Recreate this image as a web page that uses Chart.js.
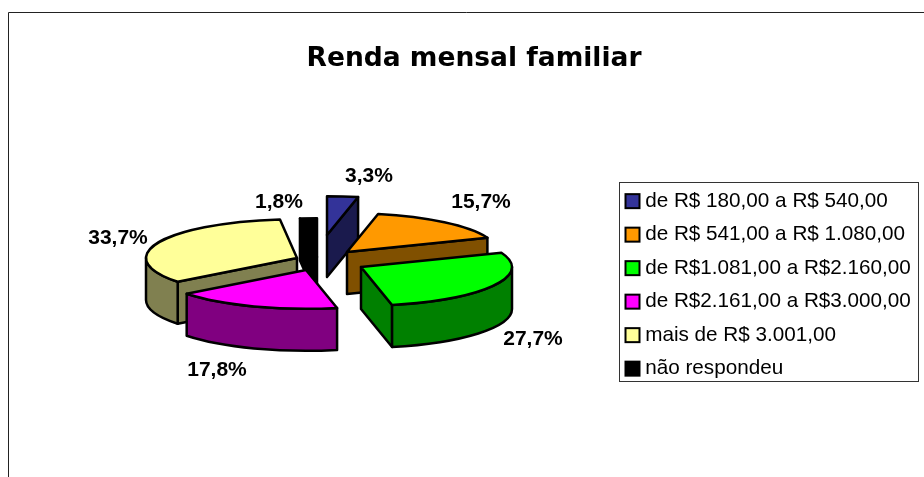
<!DOCTYPE html>
<html>
<head>
<meta charset="utf-8">
<style>
    html, body { margin: 0; padding: 0; background: #fff; }
    canvas { display: block; }
</style>
<script src="https://cdn.jsdelivr.net/npm/chart.js@4"></script>
</head>
<body>
<canvas id="grafico" width="924" height="477"></canvas>
<script>
// Dados
const categories = [
    'de R$ 180,00 a R$ 540,00',
    'de R$ 541,00 a R$ 1.080,00',
    'de R$1.081,00 a R$2.160,00',
    'de R$2.161,00 a R$3.000,00',
    'mais de R$ 3.001,00',
    'não respondeu'
];
const values = [3.3, 15.7, 27.7, 17.8, 33.7, 1.8];
const colors = ['#333399', '#FF9900', '#00FF00', '#FF00FF', '#FFFF99', '#000000'];
const sideColors = ['#1A1A4D', '#805000', '#008000', '#800080', '#808050', '#000000'];

// Layout da pizza 3D (pixels)
const center = { x: 325, y: 263 };
const flatten = 0.257;
const depth = 42;
const explodeX = [2, 22, 36, -19, -28, -8];
const explodeY = [-28, -11, 4, 7, -5, -6];
const labelX = [369, 481, 533, 217, 118, 279];
const labelY = [176, 202, 339, 370, 238, 202];

// Legenda
const legendBox = { left: 619, top: 182, width: 300, height: 200 };
const legendPadding = 12.8;

function formatPercent(v) {
    return v.toFixed(1).replace('.', ',') + '%';
}

// Desenha uma fatia: paredes laterais e depois o topo achatado
function drawSlice(ctx, arc, i) {
    const cx = center.x + explodeX[i];
    const cy = center.y + explodeY[i];
    const rx = arc.outerRadius;
    const ry = rx * flatten;
    const t0 = arc.startAngle;
    const t1 = arc.endAngle;

    ctx.lineWidth = 2.5;
    ctx.lineJoin = 'round';
    ctx.strokeStyle = '#000';
    ctx.fillStyle = sideColors[i];

    // paredes radiais voltadas para o observador
    [[t0, Math.cos(t0) < 0], [t1, Math.cos(t1) > 0]].forEach(([t, visible]) => {
        if (!visible) return;
        const ex = cx + rx * Math.cos(t);
        const ey = cy + ry * Math.sin(t);
        ctx.beginPath();
        ctx.moveTo(cx, cy);
        ctx.lineTo(ex, ey);
        ctx.lineTo(ex, ey + depth);
        ctx.lineTo(cx, cy + depth);
        ctx.closePath();
        ctx.fill();
        ctx.stroke();
    });

    // parede externa, só a metade da frente
    const a0 = Math.max(t0, 0);
    const a1 = Math.min(t1, Math.PI);
    if (a0 < a1) {
        ctx.beginPath();
        ctx.ellipse(cx, cy, rx, ry, 0, a0, a1);
        ctx.ellipse(cx, cy + depth, rx, ry, 0, a1, a0, true);
        ctx.closePath();
        ctx.fill();
        ctx.stroke();
    }

    // topo: o próprio arco do Chart.js, achatado
    ctx.save();
    ctx.translate(cx, cy);
    ctx.scale(1, flatten);
    ctx.translate(-arc.x, -arc.y);
    arc.draw(ctx);
    ctx.restore();

    ctx.beginPath();
    ctx.moveTo(cx, cy);
    ctx.ellipse(cx, cy, rx, ry, 0, t0, t1);
    ctx.closePath();
    ctx.stroke();
}

const pizza3d = {
    id: 'pizza3d',
    afterLayout(chart) {
        // título e legenda no mesmo lugar do original
        chart.titleBlock.left = 24;
        chart.titleBlock.right = 924;
        const legend = chart.legend;
        legend.left = 612;
        legend.right = 924;
        legend.top = legendBox.top - 4;
        legend.bottom = 477;
    },
    beforeDraw(chart) {
        const ctx = chart.ctx;
        ctx.save();
        ctx.strokeStyle = '#222';
        ctx.lineWidth = 1;
        ctx.beginPath();
        ctx.moveTo(8.5, 477);
        ctx.lineTo(8.5, 12.5);
        ctx.lineTo(924, 12.5);
        ctx.stroke();
        ctx.strokeStyle = '#333';
        ctx.strokeRect(legendBox.left + 0.5, legendBox.top + 0.5, legendBox.width - 1, legendBox.height - 1);
        ctx.restore();
    },
    beforeDatasetsDraw(chart) {
        const ctx = chart.ctx;
        const arcs = chart.getDatasetMeta(0).data;

        // de trás para a frente
        const order = arcs.map((arc, i) => i).sort((a, b) => {
            const midA = (arcs[a].startAngle + arcs[a].endAngle) / 2;
            const midB = (arcs[b].startAngle + arcs[b].endAngle) / 2;
            return Math.sin(midA) - Math.sin(midB);
        });
        ctx.save();
        order.forEach((i) => drawSlice(ctx, arcs[i], i));

        ctx.fillStyle = '#000';
        ctx.font = 'bold 21px "Liberation Sans"';
        ctx.textAlign = 'center';
        ctx.textBaseline = 'middle';
        values.forEach((v, i) => ctx.fillText(formatPercent(v), labelX[i], labelY[i]));
        ctx.restore();
        return false;
    },
    afterDraw(chart) {
        // quadradinhos da legenda (o texto fica mais perto do que a legenda nativa permite)
        const ctx = chart.ctx;
        const legend = chart.legend;
        ctx.save();
        ctx.lineWidth = 2;
        ctx.strokeStyle = '#000';
        legend.legendHitBoxes.forEach((box, i) => {
            const rowCenter = legend.top + legendPadding + (i + 0.5) * box.height + i * legendPadding;
            ctx.fillStyle = colors[i];
            ctx.fillRect(625.5, rowCenter - 7, 14, 14);
            ctx.strokeRect(625.5, rowCenter - 7, 14, 14);
        });
        ctx.restore();
    }
};

new Chart(document.getElementById('grafico'), {
    type: 'pie',
    data: {
        labels: categories,
        datasets: [{
            data: values,
            backgroundColor: colors,
            borderWidth: 0,
            radius: 151
        }]
    },
    options: {
        responsive: false,
        animation: false,
        layout: { padding: 0 },
        plugins: {
            title: {
                display: true,
                text: 'Renda mensal familiar',
                color: '#000',
                font: { family: '"DejaVu Sans"', size: 26.5, weight: 'bold' },
                padding: { top: 43, bottom: 10 }
            },
            tooltip: { enabled: false },
            legend: {
                position: 'right',
                align: 'start',
                labels: {
                    color: '#000',
                    font: { family: '"Liberation Sans"', size: 20.7 },
                    boxWidth: 10,
                    boxHeight: 14,
                    padding: legendPadding,
                    generateLabels(chart) {
                        const base = Chart.overrides.pie.plugins.legend.labels.generateLabels(chart);
                        return base.map((item) => ({ ...item, fillStyle: 'transparent', strokeStyle: 'transparent', lineWidth: 0 }));
                    }
                }
            }
        }
    },
    plugins: [pizza3d]
});
</script>
</body>
</html>
